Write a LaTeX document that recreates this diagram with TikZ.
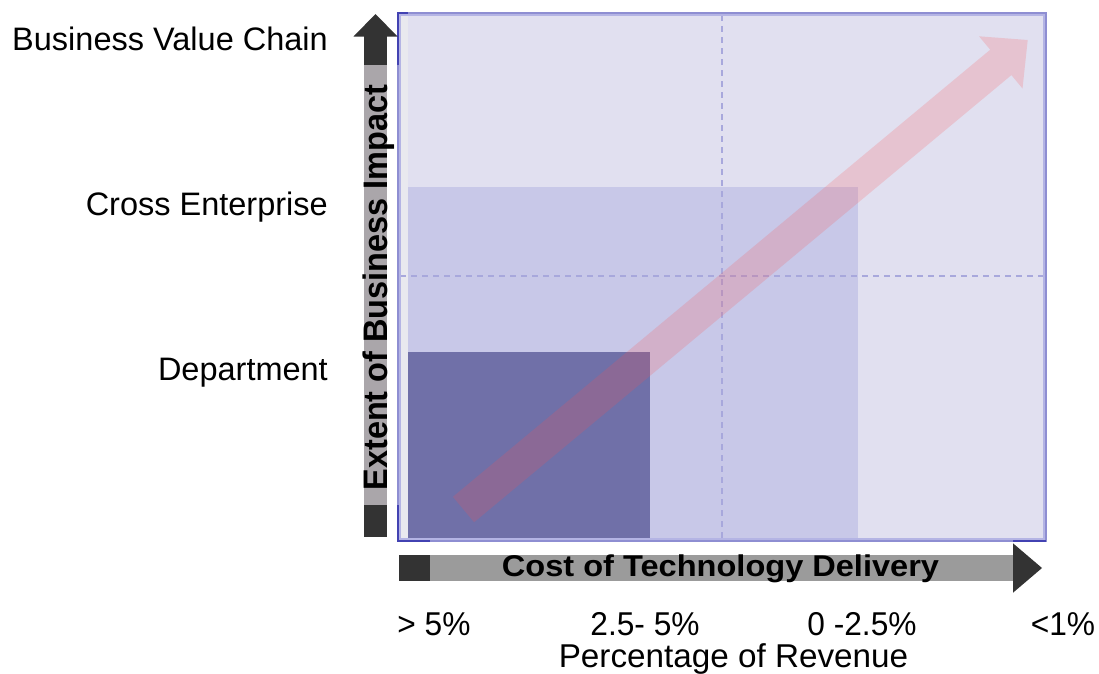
\documentclass[tikz,border=0pt]{standalone}
\usepackage{fontspec}
\setmainfont{Liberation Sans}
\definecolor{frameFill}{RGB}{225,224,240}
\definecolor{stripFill}{RGB}{233,233,239}
\definecolor{midFill}{RGB}{200,200,232}
\definecolor{darkFill}{RGB}{112,112,168}
\definecolor{frameLine}{RGB}{142,142,210}
\definecolor{frameInner}{RGB}{180,180,228}
\definecolor{accentLine}{RGB}{66,66,178}
\definecolor{dashCol}{RGB}{168,168,220}
\definecolor{pinkArrow}{RGB}{250,80,80}
\definecolor{axisDark}{RGB}{51,51,51}
\definecolor{axisGrayV}{RGB}{170,166,170}
\definecolor{axisGrayH}{RGB}{155,155,155}
\tikzset{
  levellabel/.style={font=\fontsize{32.5}{39}\selectfont, anchor=base east, inner sep=0pt},
  pctlabel/.style={font=\fontsize{33}{40}\selectfont, anchor=base, inner sep=0pt, xscale=0.96, text depth=0pt},
  axislabel/.style={font=\bfseries\fontsize{30}{36}\selectfont, inner sep=0pt, anchor=base},
  gridline/.style={draw=dashCol, line width=1.5pt, dash pattern=on 6pt off 5pt},
  accent/.style={draw=accentLine, line width=2.6pt},
}
\begin{document}
\begin{tikzpicture}[x=1pt,y=-1pt]
\useasboundingbox (0,0) rectangle (1099,673);
% chart area
\fill[frameFill] (398,13) rectangle (1046,541);
\fill[stripFill] (400,15) rectangle (408,539);
\fill[midFill] (408,187) rectangle (858,541);
\fill[darkFill] (408,352) rectangle (650,541);
% grid
\coordinate (vtop) at (722,15);
\coordinate (vbot) at (722,539);
\coordinate (hl) at (400,276);
\coordinate (hr) at (1043,276);
\draw[gridline] (vtop) -- (vbot);
\draw[gridline] (hl) -- (hr);
% pink trend arrow
\coordinate (t1) at (474.1,522.2);
\coordinate (t2) at (452.9,496.8);
\coordinate (s2) at (990.2,49.7);
\coordinate (h2) at (979.0,36.3);
\coordinate (tip) at (1027.7,40);
\coordinate (h1) at (1022.5,88.5);
\coordinate (s1) at (1011.4,75.1);
\fill[pinkArrow, opacity=0.2] (t1) -- (t2) -- (s2) -- (h2) -- (tip) -- (h1) -- (s1) -- cycle;
% frame
\draw[frameInner, line width=2pt] (400,15) rectangle (1044,539);
\draw[frameLine, line width=2pt] (398,13) rectangle (1046,541);
\draw[accent] (398,65) -- (398,13) -- (408,13);
\draw[accent] (398,505) -- (398,541) -- (430,541);
\draw[accent] (1013,541) -- (1046,541);
% vertical axis arrow
\fill[axisDark] (353.3,36.7) -- (375.5,14) -- (397.7,36.7) -- cycle;
\fill[axisDark] (364,36) rectangle (387,65);
\fill[axisGrayV] (364,65) rectangle (387,505);
\fill[axisDark] (364,505) rectangle (387,537);
% horizontal axis arrow
\fill[axisDark] (399,555) rectangle (430,581);
\fill[axisGrayH] (430,555) rectangle (1013.5,581);
\fill[axisDark] (1013,543.3) -- (1042,568) -- (1013,592.7) -- cycle;
% axis titles
\node[axislabel, rotate=90, xscale=0.955, font=\bfseries\fontsize{34}{40}\selectfont] (ytitle) at (387.5,287.5) {Extent of Business Impact};
\node[axislabel, xscale=1.085] (xtitle) at (720.5,576) {Cost of Technology Delivery};
% level labels
\node[levellabel] (lvl3) at (328,50.7) {Business Value Chain};
\node[levellabel] (lvl2) at (328,215.7) {Cross Enterprise};
\node[levellabel] (lvl1) at (328,380) {Department};
% percentage labels
\node[pctlabel] (p1) at (434,635) {> 5\%};
\node[pctlabel] (p2) at (645,635) {2.5- 5\%};
\node[pctlabel] (p3) at (862,635) {0 -2.5\%};
\node[pctlabel] (p4) at (1063,635) {<1\%};
\node[pctlabel, xscale=1.05, text height=23pt, text depth=7pt] (ptitle) at (733.5,667) {Percentage of Revenue};
\end{tikzpicture}
\end{document}
